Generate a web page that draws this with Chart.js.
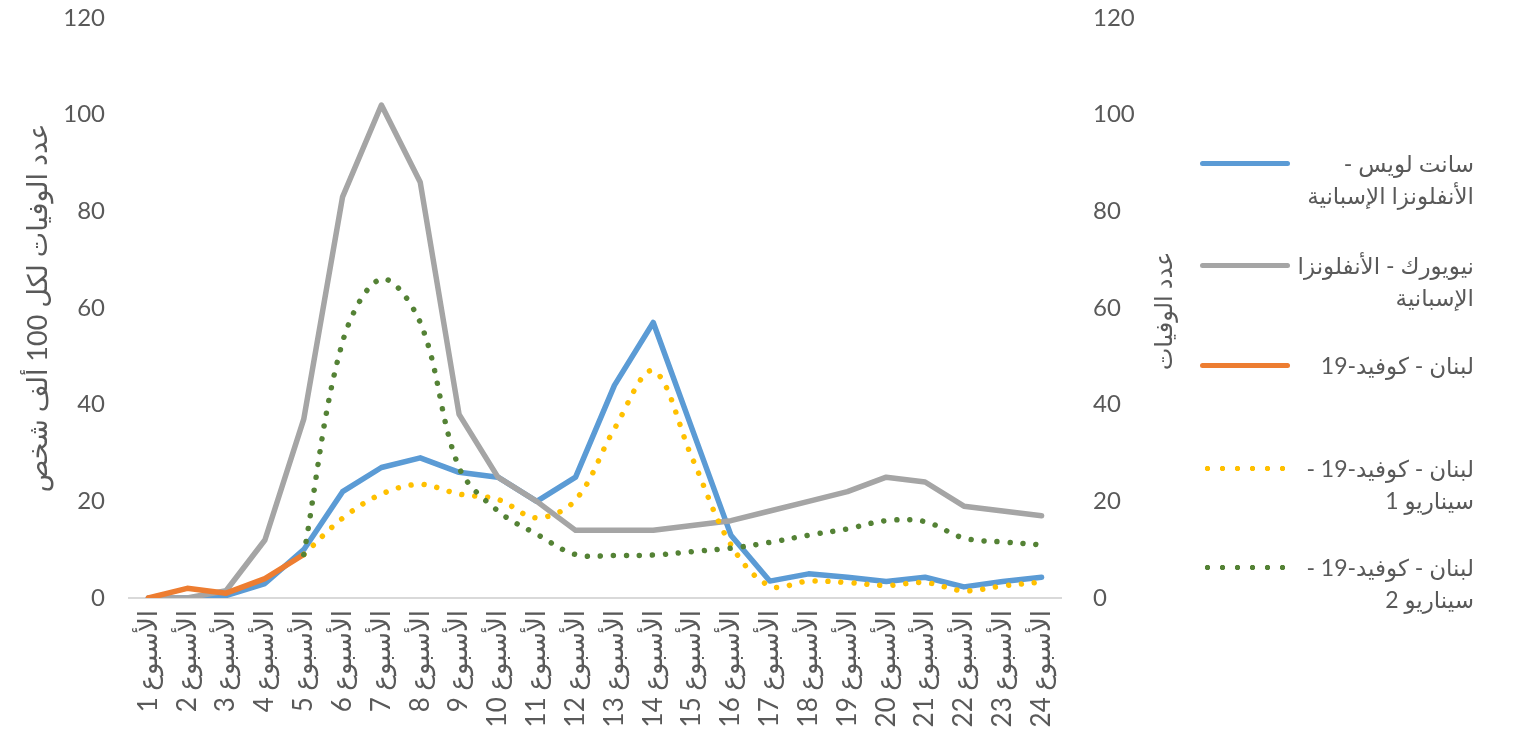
<!DOCTYPE html>
<html>
<head>
<meta charset="utf-8">
<script src="https://cdn.jsdelivr.net/npm/chart.js@4.4.1/dist/chart.umd.min.js"></script>
<style>
  html, body { margin: 0; padding: 0; background: #fff; }
  #wrap { position: relative; width: 1517px; height: 736px; overflow: hidden; }
  #chart { position: absolute; left: 0; top: 0; }
  #legend { position: absolute; left: 1180px; top: 0; width: 310px; height: 736px;
    font-family: Lato, 'DejaVu Sans', sans-serif; color: #595959; font-size: 23px; }
  .item { position: absolute; left: 0; width: 310px; height: 80px; }
  .sample { position: absolute; left: 20px; width: 90px; height: 5px; top: 14px; border-radius: 3px; }
  .text { position: absolute; right: 16px; top: 0; direction: rtl; text-align: right;
    white-space: pre; line-height: 32px; }
</style>
</head>
<body>
<div id="wrap">
  <canvas id="chart" dir="rtl" width="1517" height="736"></canvas>
  <div id="legend"></div>
</div>
<script>
// أسابيع
const weeks = [
  'الأسبوع 1', 'الأسبوع 2', 'الأسبوع 3', 'الأسبوع 4', 'الأسبوع 5', 'الأسبوع 6',
  'الأسبوع 7', 'الأسبوع 8', 'الأسبوع 9', 'الأسبوع 10', 'الأسبوع 11', 'الأسبوع 12',
  'الأسبوع 13', 'الأسبوع 14', 'الأسبوع 15', 'الأسبوع 16', 'الأسبوع 17', 'الأسبوع 18',
  'الأسبوع 19', 'الأسبوع 20', 'الأسبوع 21', 'الأسبوع 22', 'الأسبوع 23', 'الأسبوع 24'
];

const stLouis = [0, 0, 0.5, 3, 10, 22, 27, 29, 26, 25, 20, 25, 44, 57, 35, 13, 3.5, 5, 4.3, 3.4, 4.3, 2.3, 3.4, 4.3];
const newYork = [0, 0, 1.5, 12, 37, 83, 102, 86, 38, 25, 20, 14, 14, 14, 15, 16, 18, 20, 22, 25, 24, 19, 18, 17];
const lebanon = [0, 2, 1, 4, 9, null, null, null, null, null, null, null, null, null, null, null, null, null, null, null, null, null, null, null];
const scenario1 = [null, null, null, null, 9, 16.5, 21.5, 23.5, 21.5, 20.4, 16.6, 20.3, 35, 47, 29, 11, 2.5, 3.5, 3.2, 2.6, 3.2, 1.5, 2.5, 3.3];
const scenario2 = [null, null, null, null, 9, 53, 66, 57, 27, 18, 13.2, 9, 8.8, 8.9, 9.6, 10.3, 11.5, 13, 14.3, 16, 15.8, 12.4, 11.6, 11];

const seriesLabels = [
  'سانت لويس -\nالأنفلونزا الإسبانية',
  'نيويورك - الأنفلونزا\nالإسبانية',
  'لبنان - كوفيد-19',
  'لبنان - كوفيد-19 -\nسيناريو 1',
  'لبنان - كوفيد-19 -\nسيناريو 2'
];
const leftTitle = 'عدد الوفيات لكل 100 ألف شخص';
const rightTitle = 'عدد الوفيات';
const yTicks = [0, 20, 40, 60, 80, 100, 120];

const textColor = '#595959';
const fontFamily = "Lato, 'DejaVu Sans', sans-serif";
const colors = ['#5B9BD5', '#A5A5A5', '#ED7D31', '#FFC000', '#548235'];
const dotted = [false, false, false, true, true];
const seriesData = [stLouis, newYork, lebanon, scenario1, scenario2];

Chart.defaults.font.family = fontFamily;
Chart.defaults.color = textColor;

const datasets = seriesData.map((d, i) => ({
  label: seriesLabels[i],
  data: d,
  yAxisID: i >= 2 ? 'y1' : 'y',
  borderColor: colors[i],
  backgroundColor: colors[i],
  borderWidth: 5.5,
  pointRadius: 0,
  borderCapStyle: 'round',
  borderJoinStyle: 'round',
  borderDash: dotted[i] ? [0.01, 13] : [],
  tension: dotted[i] ? 0.35 : 0,
  order: 5 - i,
}));

// عنوان المحور الأيمن (مدور عكس عقارب الساعة)
const rightTitlePlugin = {
  id: 'rightTitle',
  afterDraw(chart) {
    const s = chart.scales.y1;
    const ctx = chart.ctx;
    ctx.save();
    ctx.translate(s.left + 103, (chart.chartArea.top + chart.chartArea.bottom) / 2 + 3);
    ctx.rotate(-Math.PI / 2);
    ctx.font = '24px ' + fontFamily;
    ctx.fillStyle = textColor;
    ctx.textAlign = 'center';
    ctx.textBaseline = 'middle';
    ctx.fillText(rightTitle, 0, 0);
    ctx.restore();
  }
};

// the tick padding gets added to the top padding otherwise
const trimPadding = s => { s.paddingTop = 10; s.paddingBottom = 10; };

const yAxisBase = {
  min: 0,
  max: 120,
  afterBuildTicks: s => { s.ticks = yTicks.map(v => ({ value: v })); },
  grid: { display: false, drawTicks: false },
  border: { display: false },
};

new Chart(document.getElementById('chart'), {
  type: 'line',
  data: { labels: weeks, datasets },
  plugins: [rightTitlePlugin],
  options: {
    responsive: false,
    animation: false,
    layout: { padding: { left: 0, right: 0, top: 18, bottom: 0 } },
    plugins: { legend: { display: false }, tooltip: { enabled: false } },
    scales: {
      x: {
        offset: true,
        grid: { display: false, drawTicks: false },
        border: { display: true, color: '#D9D9D9', width: 2 },
        ticks: { autoSkip: false, minRotation: 90, maxRotation: 90, padding: 12,
          font: { size: 26 }, color: textColor },
        afterFit: s => { s.height = 138; },
      },
      y: {
        ...yAxisBase,
        position: 'left',
        ticks: { padding: 24, font: { size: 24 }, color: textColor },
        title: { display: true, text: leftTitle, font: { size: 27 }, color: textColor,
          padding: { top: 22, bottom: 0 } },
        afterFit: s => { s.width = 129; trimPadding(s); },
      },
      y1: {
        ...yAxisBase,
        position: 'right',
        ticks: { padding: 32, font: { size: 24 }, color: textColor },
        afterFit: s => { s.width = 456; trimPadding(s); },
      },
    },
  },
});

// وسيلة الإيضاح
const legendTops = [163, 265, 365, 468, 567];
const legend = document.getElementById('legend');
seriesLabels.forEach((lab, i) => {
  const item = document.createElement('div');
  item.className = 'item';
  item.style.top = (legendTops[i] - 16) + 'px';
  const sample = document.createElement('div');
  sample.className = 'sample';
  if (dotted[i]) {
    sample.style.background = `radial-gradient(circle, ${colors[i]} 2.4px, transparent 3px) 0 0 / 15px 5px repeat-x`;
  } else {
    sample.style.background = colors[i];
  }
  const text = document.createElement('div');
  text.className = 'text';
  text.textContent = lab;
  item.appendChild(sample);
  item.appendChild(text);
  legend.appendChild(item);
});
</script>
</body>
</html>
